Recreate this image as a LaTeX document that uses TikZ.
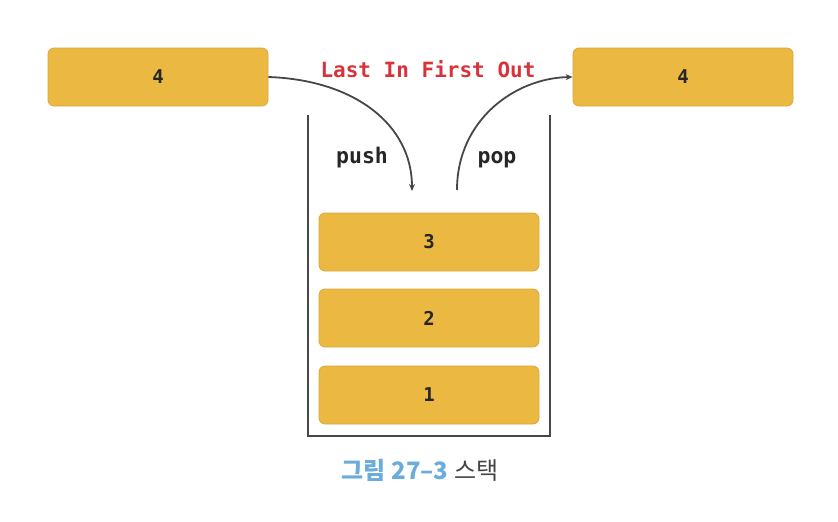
\documentclass[tikz,border=0pt]{standalone}
\usepackage{fontspec}
\setmonofont{DejaVu Sans Mono}
\newfontfamily\krfont{Noto Sans CJK KR}
\usetikzlibrary{arrows.meta}
\definecolor{boxfill}{HTML}{EBB942}
\definecolor{boxline}{HTML}{D6A93C}
\definecolor{linegray}{HTML}{474747}
\definecolor{lifored}{HTML}{D8333A}
\definecolor{capblue}{HTML}{6AADDC}
\definecolor{capgray}{HTML}{444444}
\tikzset{
  item/.style={draw=boxline, line width=0.8pt, fill=boxfill, rounded corners=6pt,
    minimum width=220pt, minimum height=58pt, inner sep=0pt,
    font=\ttfamily\bfseries\fontsize{19}{21}\selectfont, text=black!85},
  conn/.style={draw=linegray, line width=1.8pt, -{Stealth[length=7pt,width=6pt]}},
  wall/.style={draw=linegray, line width=2pt},
  lbl/.style={font=\ttfamily\bfseries\fontsize{21.5}{23}\selectfont, text=black!85, anchor=base}
}
\begin{document}
\begin{tikzpicture}[x=1pt,y=-1pt]
\useasboundingbox (0,0) rectangle (838,522);
\node[item] (lbox) at (158,77) {4};
\node[item] (rbox) at (683,77) {4};
\node[item] (b3) at (429,242) {3};
\node[item] (b2) at (429,318) {2};
\node[item] (b1) at (429,395) {1};
\coordinate (wtl) at (308,115);
\coordinate (wbl) at (308,436);
\coordinate (wbr) at (550,436);
\coordinate (wtr) at (550,115);
\draw[wall] (wtl) -- (wbl) -- (wbr) -- (wtr);
\coordinate (pushend) at (412,191);
\coordinate (popstart) at (457,190);
\draw[conn] (lbox.east) .. controls (355,80) and (412,125) .. (pushend);
\draw[conn] (popstart) .. controls (457,120) and (515,78) .. (rbox.west);
\node[font=\ttfamily\bfseries\fontsize{21}{23}\selectfont, text=lifored] (lifo) at (428,69) {Last In First Out};
\node[lbl] (push) at (362,163) {push};
\node[lbl] (pop) at (497,163) {pop};
\node[font=\krfont\bfseries\fontsize{24}{26}\selectfont, inner sep=0pt] (cap) at (420,470) {\textcolor{capblue}{그림 27–3} \textcolor{capgray}{\mdseries 스택}};
\end{tikzpicture}
\end{document}
